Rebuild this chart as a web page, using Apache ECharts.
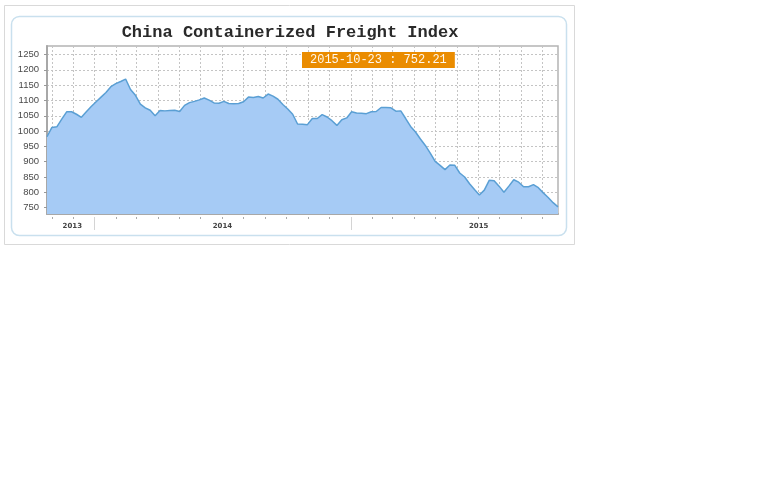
<!DOCTYPE html>
<html>
<head>
<meta charset="utf-8">
<script src="https://cdn.jsdelivr.net/npm/echarts@6/dist/echarts.min.js"></script>
<style>
html,body{margin:0;padding:0;background:#fff;}
#chart{width:768px;height:480px;}
</style>
</head>
<body>
<div id="chart"></div>
<script>
// ---- data ----
var startDate = '2013-10-25';
var endDate = '2015-10-23';
var indexValues = [
  981.5, 1012, 1014, 1039, 1063, 1063, 1055, 1045, 1063, 1080,
  1096, 1111, 1126, 1145, 1155, 1162, 1170, 1136, 1117, 1088,
  1076, 1068, 1050, 1067, 1066, 1067, 1068, 1064, 1084, 1093,
  1097, 1102, 1108, 1101, 1092, 1091, 1097, 1090, 1089, 1090,
  1096, 1111, 1110, 1113, 1108, 1121, 1114, 1104, 1087, 1072,
  1055, 1023, 1022, 1021, 1041, 1041, 1054, 1046, 1034, 1018.5,
  1037, 1043, 1063, 1059, 1058, 1057, 1063, 1064, 1077, 1077,
  1076, 1065, 1066, 1041, 1015, 997, 974, 953, 928, 901,
  888, 874, 889, 888, 863, 850, 828, 809, 791, 807,
  839, 838, 820, 800, 820, 841, 833, 818, 818, 825,
  815, 798, 783, 766, 752.21
];
var yTicks = [750, 800, 850, 900, 950, 1000, 1050, 1100, 1150, 1200, 1250];
var monthTicks = [
  '2013-11-01','2013-12-01','2014-01-01','2014-02-01','2014-03-01','2014-04-01',
  '2014-05-01','2014-06-01','2014-07-01','2014-08-01','2014-09-01','2014-10-01',
  '2014-11-01','2014-12-01','2015-01-01','2015-02-01','2015-03-01','2015-04-01',
  '2015-05-01','2015-06-01','2015-07-01','2015-08-01','2015-09-01','2015-10-01'
];
var yearSeparators = ['2014-01-01', '2015-01-01'];
var yearLabels = ['2013', '2014', '2015'];
var yearLabelDates = ['2013-11-30', '2014-07-02', '2015-07-02'];
var titleText = 'China Containerized Freight Index';
var lastLabel = '2015-10-23 : 752.21';

function ts(s) {
  var p = s.split('-');
  return new Date(+p[0], +p[1] - 1, +p[2]).getTime();
}
// weekly dates (one per published value)
function weekStamps(start, n) {
  var out = [];
  var p = start.split('-');
  for (var i = 0; i < n; i++) {
    out.push(new Date(+p[0], +p[1] - 1, +p[2] + 7 * i).getTime());
  }
  return out;
}
var stamps = weekStamps(startDate, indexValues.length);
var seriesData = stamps.map(function (t, i) { return [t, indexValues[i]]; });
var monthTickVals = monthTicks.map(ts);
var yearSepVals = yearSeparators.map(ts);
var yearLabelVals = yearLabelDates.map(ts);
var xMin = ts(startDate), xMax = ts(endDate);

var chart = echarts.init(document.getElementById('chart'), null, {renderer: 'canvas'});
var gridLeft = 47, gridTop = 46, gridWidth = 511, gridHeight = 168;

var option = {
  animation: false,
  backgroundColor: '#ffffff',
  title: [{
    text: titleText,
    left: 285, top: 19, textAlign: 'center',
    textStyle: {fontFamily: 'Liberation Mono', fontWeight: 'bold', fontSize: 17, color: '#2a2a2a'}
  }, {
    text: lastLabel,
    left: 302, top: 52,
    padding: [1, 8, 1, 8],
    backgroundColor: '#ea8c00',
    textStyle: {fontFamily: 'Liberation Mono', fontWeight: 'normal', fontSize: 12, color: '#fff8ec', lineHeight: 14}
  }],
  graphic: [{
    type: 'rect', silent: true, z: -10,
    shape: {x: 4.5, y: 5.5, width: 570, height: 239},
    style: {fill: '#ffffff', stroke: '#d9d9d9', lineWidth: 1}
  }, {
    type: 'rect', silent: true, z: -9,
    shape: {x: 11.5, y: 16.5, width: 555, height: 219, r: 8},
    style: {fill: '#ffffff', stroke: '#c9e0ee', lineWidth: 1.5}
  }],
  grid: {
    left: gridLeft, top: gridTop, width: gridWidth, height: gridHeight,
    show: true, borderColor: '#b4b4b4', borderWidth: 1.5, backgroundColor: 'transparent'
  },
  xAxis: [{
    type: 'value',
    min: xMin, max: xMax,
    axisLine: {show: true, lineStyle: {color: '#a8a8a8', width: 2}},
    axisTick: {show: false, customValues: monthTickVals},
    axisLabel: {show: false, customValues: monthTickVals},
    splitLine: {show: true, lineStyle: {color: '#c4c4c4', type: [2, 2], width: 1}}
  }, {
    type: 'value', position: 'bottom', offset: 3,
    min: xMin, max: xMax,
    axisLine: {show: false},
    axisTick: {show: true, length: 2, customValues: monthTickVals, lineStyle: {color: '#aaaaaa'}},
    axisLabel: {show: false, customValues: monthTickVals},
    splitLine: {show: false}
  }, {
    type: 'value', position: 'bottom', offset: 3,
    min: xMin, max: xMax,
    axisLine: {show: false},
    axisTick: {show: true, length: 13, customValues: yearSepVals, lineStyle: {color: '#d4d4d4'}},
    axisLabel: {
      show: true, margin: 6, customValues: yearLabelVals,
      fontFamily: 'DejaVu Sans', fontSize: 7, fontWeight: 'bold', color: '#444',
      formatter: function (v) {
        var y = new Date(v).getFullYear();
        return yearLabels[y - 2013];
      }
    },
    splitLine: {show: false}
  }],
  yAxis: {
    type: 'value', min: 729, max: 1278,
    axisLine: {show: true, lineStyle: {color: '#a8a8a8', width: 2}},
    axisTick: {show: true, length: 3, customValues: yTicks, lineStyle: {color: '#999'}},
    axisLabel: {
      customValues: yTicks, margin: 8, fontFamily: 'Liberation Sans', fontSize: 9.5, color: '#4a4a4a',
      formatter: function (v) { return String(v); }
    },
    splitLine: {show: true, lineStyle: {color: '#c4c4c4', type: [2, 2], width: 1}}
  },
  series: [{
    type: 'line',
    xAxisIndex: 0,
    data: seriesData,
    showSymbol: false,
    symbol: 'none',
    lineStyle: {color: '#5a9fd4', width: 1.5},
    areaStyle: {color: '#a6cbf5', opacity: 1, origin: 'start'},
    z: 3
  }]
};
chart.setOption(option);
</script>
</body>
</html>
